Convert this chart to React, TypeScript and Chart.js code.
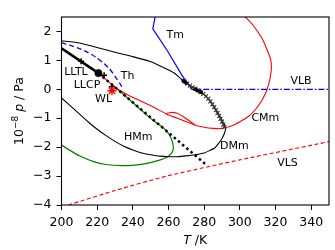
import React, { useEffect, useRef } from "react";
import { Chart, registerables } from "chart.js";
Chart.register(...registerables);

const FONT = "'DejaVu Sans', sans-serif";

const xTicks = [200, 220, 240, 260, 280, 300, 320, 340];
const yTicks = [-4, -3, -2, -1, 0, 1, 2];

// Tm (blue solid)
const tmT = [252.8, 251.2, 259.1, 267.5, 273.1];
const tmP = [2.6, 2.09, 1.36, 0.49, 0.0];
// VLB (blue dash-dot)
const vlbT = [273.1, 350];
const vlbP = [0, 0];
// Th (blue dashed)
const thT = [200, 205, 210, 215, 220, 224, 227, 230, 232.5, 234.7];
const thP = [1.61, 1.52, 1.41, 1.27, 1.08, 0.88, 0.7, 0.45, 0.22, 0.0];
// LLTL (thick black)
const lltlT = [200, 220.7];
const lltlP = [1.42, 0.56];
// LLCP
const llcpT = [220.7];
const llcpP = [0.56];
// WL star
const wlT = [228.3];
const wlP = [-0.05];
// plus markers
const plusT = [211, 223.9, 228.2];
const plusP = [0.97, 0.49, 0.09];
// Widom line (dotted)
const dotT = [220.7, 280.6];
const dotP = [0.56, -2.58];
// red: from LLCP, CMm loop
const redT = [220.7, 225, 231.7, 238, 246, 253, 259, 265, 270, 275, 280, 285, 289, 294.7, 300, 305, 309, 312.5, 315.3, 317, 317.7, 317.2, 315.3, 313, 310.6, 307, 303, 300];
const redP = [0.56, 0.33, 0.0, -0.22, -0.45, -0.66, -0.86, -1.0, -1.12, -1.24, -1.31, -1.35, -1.36, -1.28, -1.12, -0.93, -0.68, -0.37, 0.0, 0.4, 0.74, 1.05, 1.36, 1.7, 1.94, 2.25, 2.5, 2.68];
// red lens
const lensT = [258.5, 261.5, 264.5, 268, 271.5, 275];
const lensP = [-0.84, -0.8, -0.82, -0.93, -1.08, -1.24];
// black: top curve -> marker chain -> DMm
const blkT = [200, 210, 221.6, 230, 240, 249.7, 258, 263, 267.6, 272, 276, 279.5, 283, 285.5, 288, 290, 291.5, 292, 291.5, 290, 288, 286, 283, 280, 275, 270, 265, 260, 255, 250, 245, 240, 235, 230, 225, 220, 215, 210, 205, 200];
const blkP = [1.68, 1.6, 1.42, 1.28, 1.13, 0.96, 0.73, 0.57, 0.33, 0.12, -0.02, -0.15, -0.38, -0.6, -0.85, -1.06, -1.25, -1.35, -1.5, -1.7, -1.88, -2.02, -2.12, -2.2, -2.26, -2.3, -2.33, -2.33, -2.31, -2.26, -2.2, -2.1, -1.97, -1.8, -1.6, -1.38, -1.13, -0.85, -0.57, -0.3];
// chain markers
const chainT = [269, 270.5, 272, 273.5, 275, 276.5, 278, 279.5, 281, 282.3, 283.5, 284.6, 285.6, 286.6, 287.5, 288.4, 289.2, 290, 290.7, 291.3];
const chainP = [0.27, 0.2, 0.13, 0.07, 0.02, -0.04, -0.1, -0.16, -0.24, -0.32, -0.42, -0.52, -0.62, -0.72, -0.82, -0.92, -1.02, -1.12, -1.22, -1.3];
const thick1T = [267.6, 270.3];
const thick1P = [0.33, 0.2];
const thick2T = [274.5, 279];
const thick2P = [0.02, -0.13];
// green HMm
const grnT = [200, 205, 210, 218, 225, 234, 241, 248, 255, 259, 261.5, 262.7, 262.5, 261.5, 259, 256, 253, 248, 244, 238, 232, 229.5];
const grnP = [-1.93, -2.12, -2.3, -2.5, -2.6, -2.64, -2.62, -2.56, -2.45, -2.35, -2.22, -2.08, -1.9, -1.7, -1.45, -1.28, -1.15, -0.9, -0.68, -0.35, -0.03, 0.1];
// VLS red dashed
const vlsT = [203.8, 230, 259, 300, 350];
const vlsP = [-4, -3.5, -3.0, -2.44, -1.81];

const labelText = ["Tm", "Th", "LLTL", "LLCP", "WL", "HMm", "DMm", "VLS", "CMm", "VLB"];
const labelT = [263.8, 237.1, 208.1, 214.3, 223.6, 243, 296.9, 326.7, 314.3, 334.3];
const labelP = [1.88, 0.46, 0.6, 0.15, -0.34, -1.67, -1.96, -2.57, -0.98, 0.29];

const pts = (t: number[], p: number[]) => t.map((v, i) => ({ x: v, y: p[i] }));

const line = (t: number[], p: number[], color: string, width: number, dash: number[] = [], order = 5, tension = 0.2) => ({
  data: pts(t, p),
  showLine: true,
  borderColor: color,
  borderWidth: width,
  borderDash: dash,
  pointRadius: 0,
  fill: false,
  tension,
  order,
});

const overlay = {
  id: "overlay",
  afterDraw(chart: any) {
    const { ctx, chartArea: a, scales } = chart;
    const x = scales.x, y = scales.y;
    ctx.save();
    ctx.strokeStyle = "#000";
    ctx.lineWidth = 1.1;
    ctx.strokeRect(a.left, a.top, a.right - a.left, a.bottom - a.top);
    ctx.fillStyle = "#000";
    ctx.font = `11px ${FONT}`;
    ctx.textAlign = "center";
    ctx.textBaseline = "middle";
    labelText.forEach((t, i) => ctx.fillText(t, x.getPixelForValue(labelT[i]), y.getPixelForValue(labelP[i])));
    // x title
    ctx.textBaseline = "alphabetic";
    ctx.textAlign = "left";
    const fN = `12.5px ${FONT}`, fI = `italic 12.5px ${FONT}`, fS = `9px ${FONT}`;
    ctx.font = fI;
    const wT = ctx.measureText("T").width;
    ctx.font = fN;
    const wR = ctx.measureText(" /K").width;
    const cx = (a.left + a.right) / 2;
    const sx = cx - (wT + wR) / 2;
    ctx.font = fI; ctx.fillText("T", sx, 244);
    ctx.font = fN; ctx.fillText(" /K", sx + wT, 244);
    // y title
    const segs = [
      { t: "10", f: fN, dy: 0 },
      { t: "\u22128", f: fS, dy: -5 },
      { t: " ", f: fN, dy: 0 },
      { t: "p", f: fI, dy: 0 },
      { t: " / Pa", f: fN, dy: 0 },
    ];
    let total = 0;
    const ws = segs.map((s) => { ctx.font = s.f; const w = ctx.measureText(s.t).width; total += w; return w; });
    ctx.translate(22.5, (a.top + a.bottom) / 2);
    ctx.rotate(-Math.PI / 2);
    let px = -total / 2;
    segs.forEach((s, i) => { ctx.font = s.f; ctx.fillText(s.t, px, s.dy); px += ws[i]; });
    ctx.restore();
  },
};

export default function App() {
  const ref = useRef<HTMLCanvasElement>(null);
  useEffect(() => {
    document.body.style.margin = "0";
    const chart = new Chart(ref.current!, {
      type: "scatter",
      data: {
        datasets: [
          { data: pts(wlT, wlP), pointStyle: "star", pointRadius: 4.5, borderColor: "#ff0000", borderWidth: 1.3, backgroundColor: "#ff0000", order: 0 } as any,
          { data: pts(llcpT, llcpP), pointStyle: "circle", pointRadius: 3.5, borderColor: "#000", backgroundColor: "#000", order: 0 },
          { data: pts(plusT, plusP), pointStyle: "cross", pointRadius: 3, borderColor: "#000", borderWidth: 1.5, order: 0 },
          line(thick1T, thick1P, "#000", 3.5, [], 1, 0),
          line(thick2T, thick2P, "#000", 3.5, [], 1, 0),
          { data: pts(chainT, chainP), pointStyle: "crossRot", pointRadius: 2.8, borderColor: "#333", borderWidth: 1.1, order: 1 },
          line(tmT, tmP, "#0000ff", 1.2, [], 2, 0),
          line(vlbT, vlbP, "#0000ff", 1.2, [6, 2, 1.5, 2], 2, 0),
          line(thT, thP, "#0000ff", 1.3, [5, 3], 2),
          line(lltlT, lltlP, "#000", 2.6, [], 2, 0),
          line(dotT, dotP, "#000", 2.5, [2.5, 3], 2, 0),
          line(redT, redP, "#ff0000", 1.1, [], 4),
          line(lensT, lensP, "#ff0000", 1.1, [], 4),
          line(blkT, blkP, "#000", 1.1, [], 4),
          line(grnT, grnP, "#008000", 1.2, [], 5),
          line(vlsT, vlsP, "#ff0000", 1.1, [4, 2.5], 5),
        ],
      },
      options: {
        animation: false,
        responsive: false,
        events: [],
        layout: { padding: { left: 0, top: 17, right: 6, bottom: 0 } },
        plugins: { legend: { display: false }, tooltip: { enabled: false } },
        scales: {
          x: {
            type: "linear",
            min: 200,
            max: 350,
            afterBuildTicks: (s: any) => { s.ticks = xTicks.map((v) => ({ value: v })); },
            afterFit: (s: any) => { s.height = 45; },
            grid: { display: true, drawOnChartArea: false, drawTicks: true, tickLength: 5, color: "#000" },
            border: { display: false },
            ticks: { font: { family: FONT, size: 12.5 }, color: "#000", padding: 5, maxRotation: 0, autoSkip: false },
          },
          y: {
            type: "linear",
            min: -4,
            max: 2.5,
            afterBuildTicks: (s: any) => { s.ticks = yTicks.map((v) => ({ value: v })); },
            afterFit: (s: any) => { s.width = 61.5; },
            grid: { display: true, drawOnChartArea: false, drawTicks: true, tickLength: 5, color: "#000" },
            border: { display: false },
            ticks: {
              font: { family: FONT, size: 12.5 },
              color: "#000",
              padding: 5,
              callback: (v: any) => String(v).replace("-", "\u2212"),
            },
          },
        },
      },
      plugins: [overlay],
    });
    return () => chart.destroy();
  }, []);
  return (
    <div style={{ width: 335, height: 250 }}>
      <canvas ref={ref} width={335} height={250} />
    </div>
  );
}
